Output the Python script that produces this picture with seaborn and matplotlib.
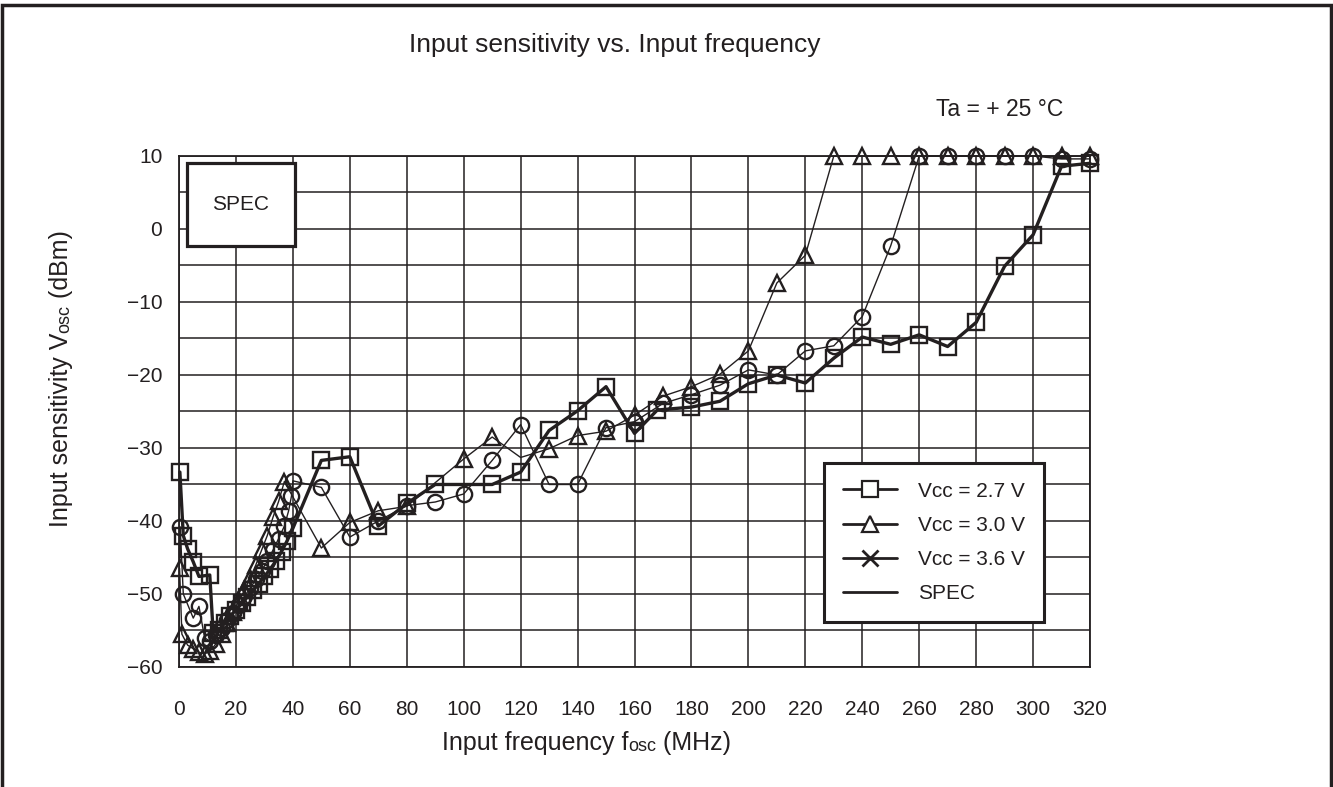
import numpy as np
import pandas as pd
import matplotlib
matplotlib.use("Agg")
import matplotlib.pyplot as plt
from matplotlib.lines import Line2D
from matplotlib.patches import Rectangle
import seaborn as sns

# Values (MHz, dBm)
freq_27 = [0.3, 1.5, 3, 5, 7, 10.8, 12, 14, 16, 18, 20, 22, 24, 26, 28, 30, 32, 34, 36, 38, 40,
           50, 60, 70, 80, 90, 110, 120, 130, 140, 150, 160, 168, 180, 190, 200, 210, 220,
           230, 240, 250, 260, 270, 280, 290, 300, 310, 320]
sens_27 = [-33.3, -42.0, -43.8, -45.6, -47.6, -47.4, -55.3, -55.0, -54.0, -53.0, -52.2, -51.3,
           -50.4, -49.5, -48.6, -47.6, -46.6, -45.5, -44.2, -42.7, -41.0,
           -31.7, -31.2, -40.7, -37.6, -35.0, -35.0, -33.3, -27.6, -24.9, -21.6, -28.0, -24.8,
           -24.4, -23.6, -21.2, -20.0, -21.1, -17.7, -14.8, -15.8, -14.5, -16.1, -12.8, -5.1,
           -0.8, 8.6, 9.0]

freq_30 = [0.2, 1, 3, 5, 7, 9, 11, 13, 15, 17, 19, 21, 23, 25, 27, 29, 31, 33, 35, 37,
           50, 60, 70, 80, 100, 110, 120, 130, 140, 150, 160, 170, 180, 190, 200, 210, 220,
           230, 240, 250, 260, 270, 280, 290, 300, 310, 320]
sens_30 = [-46.5, -55.5, -57.0, -57.5, -58.0, -58.2, -57.8, -56.8, -55.5, -54.0, -52.5, -51.0,
           -49.5, -47.8, -46.0, -44.0, -42.0, -39.5, -37.3, -34.6,
           -43.7, -40.2, -38.6, -38.0, -31.5, -28.5, -31.3, -30.1, -28.3, -27.7, -25.5, -22.9,
           -21.6, -19.9, -16.7, -7.4, -3.6, 10, 10, 10, 10, 10, 10, 10, 10, 10, 10]
hidden_30 = [120]  # vertex of the 3.0 V line drawn without a marker

freq_36 = [0.4, 1.5, 5, 7, 9, 11, 13, 15, 17, 19, 21, 23, 25, 27, 29, 31, 33, 35, 37, 38.5,
           39.5, 40, 50, 60, 70, 80, 90, 100, 110, 120, 130, 140, 150, 160, 170, 180, 190,
           200, 210, 220, 230, 240, 250, 260, 270, 280, 290, 300, 310, 320]
sens_36 = [-40.8, -50.0, -53.3, -51.7, -56.0, -56.5, -55.6, -54.6, -53.6, -52.6, -51.5, -50.3,
           -49.2, -48.0, -46.8, -45.5, -44.0, -42.4, -40.7, -38.6, -36.6, -34.5,
           -35.4, -42.2, -40.0, -37.9, -37.4, -36.3, -31.7, -26.8, -35.0, -35.0, -27.2, -26.4,
           -23.9, -22.7, -21.4, -19.3, -20.0, -16.7, -16.0, -12.0, -2.3, 10, 10, 10, 10, 10,
           9.6, 9.6]

x_ticks = list(range(0, 321, 20))
y_ticks = list(range(-60, 11, 10))
legend_labels = ["Vcc = 2.7 V", "Vcc = 3.0 V", "Vcc = 3.6 V", "SPEC"]
spec_box = (2.7, 40.7, -2.3, 9.0)  # f from, f to, dBm from, dBm to

INK = "#231f20"

sns.set_style("white")
plt.rcParams["font.family"] = ["Liberation Sans", "DejaVu Sans"]

fig = plt.figure(figsize=(13.33, 7.87), dpi=100)
ax = fig.add_axes([0.1343, 0.1525, 0.6834, 0.6493])

series = [
    (freq_27, sens_27, [], "s", 12, 2.4),
    (freq_30, sens_30, hidden_30, "^", 12, 1.0),
    (freq_36, sens_36, [], "o", 11, 1.0),
]
for f, v, hidden, m, ms, lw in series:
    d = pd.DataFrame({"f": f, "v": v})
    sns.lineplot(data=d, x="f", y="v", color=INK, lw=lw, estimator=None, sort=False,
                 ax=ax, clip_on=False, zorder=3)
    dm = d[~d["f"].isin(hidden)]
    sns.lineplot(data=dm, x="f", y="v", color=INK, ls="none", marker=m, ms=ms,
                 mfc="none", mec=INK, mew=1.7, estimator=None, sort=False,
                 ax=ax, clip_on=False, zorder=4)

ax.set_xlim(0, 320)
ax.set_ylim(-60, 10)
ax.set_xticks(range(0, 321, 20))
ax.set_xticklabels([str(t) for t in x_ticks])
ax.set_yticks(range(-60, 11, 5))
ax.set_yticklabels([(str(t).replace("-", "\u2212") if t in y_ticks else "")
                    for t in range(-60, 11, 5)])
ax.tick_params(axis="both", length=0, labelsize=15, colors=INK)
ax.tick_params(axis="x", pad=24)
ax.tick_params(axis="y", pad=12)
ax.grid(True, color=INK, lw=1.1)
for s in ax.spines.values():
    s.set_color(INK)
    s.set_linewidth(1.3)
ax.set_xlabel("")
ax.set_ylabel("")

# SPEC region box
x0, x1, y0, y1 = spec_box
ax.add_patch(Rectangle((x0, y0), x1 - x0, y1 - y0, facecolor="white", edgecolor=INK,
                       lw=2.3, zorder=5))
ax.text((x0 + x1) / 2, (y0 + y1) / 2, "SPEC", ha="center", va="center", fontsize=15,
        color=INK, zorder=6)

handles = [
    Line2D([], [], color=INK, lw=2, marker="s", ms=11, mfc="white", mec=INK, mew=1.6),
    Line2D([], [], color=INK, lw=2, marker="^", ms=11, mfc="white", mec=INK, mew=1.6),
    Line2D([], [], color=INK, lw=2, marker="x", ms=11, mec=INK, mew=2),
    Line2D([], [], color=INK, lw=2),
]
leg = ax.legend(handles, legend_labels, loc="upper left",
                bbox_to_anchor=(824 / 1333, 1 - 463 / 787), bbox_transform=fig.transFigure,
                borderaxespad=0, fontsize=15, handlelength=2.6, handletextpad=1.0,
                labelspacing=0.73, borderpad=0.9, fancybox=False, framealpha=1)
leg.get_frame().set_edgecolor(INK)
leg.get_frame().set_linewidth(2.2)
leg.set_zorder(6)
for t in leg.get_texts():
    t.set_color(INK)

fig.text(615 / 1333, 1 - 45 / 787, "Input sensitivity vs. Input frequency",
         ha="center", va="center", fontsize=19, color=INK)
fig.text(936 / 1333, 1 - 110 / 787, "Ta = + 25 °C", ha="left", va="center",
         fontsize=16.5, color=INK)

# axis titles with the smaller "osc" part
big, small = 18, 13
t = fig.text(442 / 1333, 1 - 750 / 787, "Input frequency f", ha="left", va="baseline",
             fontsize=big, color=INK)
t = ax.annotate("osc", xy=(1, 0), xycoords=t, ha="left", va="bottom",
                fontsize=small, color=INK)
ax.annotate(" (MHz)", xy=(1, 0), xycoords=t, ha="left", va="bottom",
            fontsize=big, color=INK)

t = fig.text(68 / 1333, 1 - 527 / 787, "Input sensitivity V", ha="left", va="baseline",
             rotation=90, rotation_mode="anchor", fontsize=big, color=INK)
t = ax.annotate("osc", xy=(1, 1), xycoords=t, ha="right", va="bottom", rotation=90,
                fontsize=small, color=INK)
ax.annotate(" (dBm)", xy=(1, 1), xycoords=t, ha="right", va="bottom", rotation=90,
            fontsize=big, color=INK)

# outer frame of the figure
fig.patches.append(Rectangle((0.0015, -0.05), 0.997, 1.044, transform=fig.transFigure,
                             fill=False, lw=2.5, edgecolor=INK))

fig.savefig("out.png", dpi=100)
